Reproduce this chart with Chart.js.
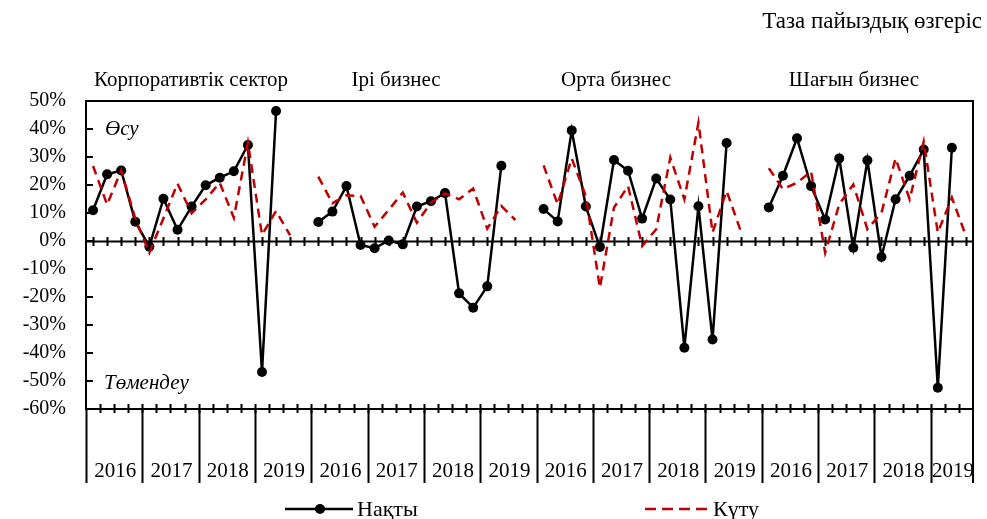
<!DOCTYPE html>
<html>
<head>
<meta charset="utf-8">
<script src="https://cdn.jsdelivr.net/npm/chart.js@4.4.1/dist/chart.umd.min.js"></script>
<style>
  html, body { margin: 0; padding: 0; background: #fff; }
  canvas { display: block; }
</style>
</head>
<body>
<canvas id="chartRate" width="987" height="519"></canvas>
<script>
// segments and years on the category axis (one category = one quarter)
const segments = ['Корпоративтік сектор', 'Ірі бизнес', 'Орта бизнес', 'Шағын бизнес'];
const years = ['2016', '2017', '2018', '2019'];
const quartersInYear = [[4, 4, 4, 4], [4, 4, 4, 4], [4, 4, 4, 4], [4, 4, 4, 3]];

const yTicks = [50, 40, 30, 20, 10, 0, -10, -20, -30, -40, -50, -60];

// Нақты (actual), % by quarter from 2016 Q1
const corpActual   = [11.0, 23.8, 25.2, 6.9, -2.0, 15.1, 4.0, 12.3, 19.9, 22.6, 24.9, 34.3, -46.8, 46.4];
const largeActual  = [6.8, 10.5, 19.6, -1.4, -2.6, 0.2, -1.2, 12.3, 14.2, 17.1, -18.7, -23.8, -16.2, 26.9];
const mediumActual = [11.4, 7.0, 39.5, 12.3, -2.1, 28.9, 25.1, 8.0, 22.3, 14.8, -38.1, 12.4, -35.2, 35.0];
const smallActual  = [12.0, 23.3, 36.7, 19.6, 7.7, 29.5, -2.4, 28.8, -5.7, 14.9, 23.3, 32.7, -52.4, 33.3];

// Күту (expected)
const corpExpected   = [26.8, 13.0, 25.2, 8.0, -4.2, 8.1, 20.5, 9.9, 14.9, 20.8, 8.3, 35.1, 2.2, 10.7, 2.0];
const largeExpected  = [23.0, 13.5, 16.3, 16.1, 5.1, 11.1, 17.3, 6.5, 13.7, 17.0, 14.9, 18.7, 4.4, 12.5, 7.5];
const mediumExpected = [27.0, 13.1, 29.5, 16.0, -16.7, 11.9, 19.6, -1.8, 4.2, 29.8, 14.9, 42.3, 3.0, 17.9, 3.6];
const smallExpected  = [26.0, 18.5, 20.8, 24.8, -4.2, 13.1, 20.2, 4.2, 10.1, 29.5, 14.9, 35.5, 3.0, 15.5, 1.8];

const actualBySeg = [corpActual, largeActual, mediumActual, smallActual];
const expectedBySeg = [corpExpected, largeExpected, mediumExpected, smallExpected];

// build category labels and padded series
const labels = [];
const actual = [];
const expected = [];
segments.forEach((seg, s) => {
  let n = 0;
  years.forEach((y, k) => {
    for (let q = 1; q <= quartersInYear[s][k]; q++) {
      labels.push(seg + ' ' + y + ' Q' + q);
      n++;
    }
  });
  for (let i = 0; i < n; i++) {
    actual.push(i < actualBySeg[s].length ? actualBySeg[s][i] : null);
    expected.push(i < expectedBySeg[s].length ? expectedBySeg[s][i] : null);
  }
});

const SERIF = '"Liberation Serif", "Times New Roman", serif';
const RED = '#C00000';

const decorations = {
  id: 'decorations',
  beforeDraw(chart) {
    const c = chart.ctx;
    c.save();
    c.fillStyle = '#fff';
    c.fillRect(0, 0, chart.width, chart.height);
    c.restore();
  },
  beforeDatasetsDraw(chart) {
    const c = chart.ctx;
    const a = chart.chartArea;
    const x = chart.scales.x;
    const y = chart.scales.y;
    const step = (x.getPixelForValue(1) - x.getPixelForValue(0));
    c.save();
    c.strokeStyle = '#000';
    c.lineWidth = 2;

    // frame top and right
    c.beginPath();
    c.moveTo(a.left, a.top); c.lineTo(a.right, a.top); c.lineTo(a.right, a.bottom);
    c.stroke();

    // inward ticks on value axis
    c.beginPath();
    yTicks.forEach(v => {
      const py = Math.round(y.getPixelForValue(v));
      c.moveTo(a.left, py); c.lineTo(a.left + 7, py);
    });
    c.stroke();

    // zero line with ticks at each quarter
    const y0 = Math.round(y.getPixelForValue(0)) + 0.5;
    c.beginPath();
    c.moveTo(a.left, y0); c.lineTo(a.right, y0);
    labels.forEach((l, i) => {
      const px = Math.round(x.getPixelForValue(i)) + 0.5;
      c.moveTo(px, y0 - 4.5); c.lineTo(px, y0 + 4.5);
    });
    c.stroke();

    // bottom axis, quarter ticks at boundaries, year separators
    const yb = a.bottom;
    c.beginPath();
    c.moveTo(a.left, yb); c.lineTo(a.right, yb);
    for (let i = 1; i < labels.length; i++) {
      const px = Math.round(x.getPixelForValue(i) - step / 2) + 0.5;
      c.moveTo(px, yb - 5); c.lineTo(px, yb + 4);
    }
    c.stroke();

    c.fillStyle = '#000';
    c.font = '21px ' + SERIF;
    c.textAlign = 'center';
    c.textBaseline = 'middle';
    let idx = 0;
    segments.forEach((seg, s) => {
      years.forEach((yr, k) => {
        const n = quartersInYear[s][k];
        const x1 = x.getPixelForValue(idx) - step / 2;
        const x2 = x.getPixelForValue(idx + n - 1) + step / 2;
        c.beginPath();
        c.moveTo(Math.round(x1) + 0.5, yb); c.lineTo(Math.round(x1) + 0.5, yb + 74);
        c.stroke();
        c.fillText(yr, (x1 + x2) / 2 + 1, 471);
        idx += n;
      });
    });
    c.beginPath();
    c.moveTo(a.right, yb); c.lineTo(a.right, yb + 74);
    c.stroke();

    // segment names above the plot
    c.font = '21px ' + SERIF;
    const segCenters = [191, 396, 616, 854];
    segments.forEach((seg, s) => {
      c.fillText(seg, segCenters[s], 80);
    });

    // title
    c.textAlign = 'right';
    c.font = '23px ' + SERIF;
    c.fillText('Таза пайыздық өзгеріс', 982, 22);

    // italic notes
    c.textAlign = 'left';
    c.font = 'italic 21px ' + SERIF;
    c.fillText('Өсу', 105, 129);
    c.fillText('Төмендеу', 104, 383);

    // legend
    const ly = 509;
    c.lineWidth = 2.5;
    c.beginPath();
    c.moveTo(285, ly); c.lineTo(353, ly);
    c.stroke();
    c.beginPath();
    c.arc(320, ly, 5, 0, Math.PI * 2);
    c.fill();
    c.strokeStyle = RED;
    c.setLineDash([11, 6]);
    c.beginPath();
    c.moveTo(645, ly); c.lineTo(709, ly);
    c.stroke();
    c.setLineDash([]);
    c.font = '22px ' + SERIF;
    c.fillText('Нақты', 357, ly + 1);
    c.fillText('Күту', 713, ly + 1);
    c.restore();
  }
};

new Chart(document.getElementById('chartRate'), {
  type: 'line',
  data: {
    labels: labels,
    datasets: [{
      label: 'Нақты',
      data: actual,
      order: 1,
      borderColor: '#000',
      backgroundColor: '#000',
      borderWidth: 2.5,
      pointRadius: 5,
      pointBackgroundColor: '#000',
      pointBorderWidth: 0,
      spanGaps: false,
      tension: 0
    }, {
      label: 'Күту',
      data: expected,
      order: 0,
      borderColor: RED,
      borderWidth: 2.5,
      borderDash: [9, 6],
      pointRadius: 0,
      spanGaps: false,
      tension: 0
    }]
  },
  options: {
    responsive: false,
    animation: false,
    devicePixelRatio: 1,
    layout: { padding: { left: 0, right: 14, top: 101, bottom: 0 } },
    plugins: {
      legend: { display: false },
      tooltip: { enabled: false }
    },
    scales: {
      x: {
        offset: true,
        grid: { display: false },
        border: { display: false },
        ticks: { display: false },
        afterFit(s) { s.height = 110; }
      },
      y: {
        min: -60,
        max: 50,
        grid: { display: false, drawTicks: false },
        border: { display: true, color: '#000', width: 2 },
        ticks: {
          stepSize: 10,
          padding: 20,
          color: '#000',
          font: { family: SERIF, size: 20 },
          callback: v => v + '%'
        },
        afterFit(s) { s.width = 86; }
      }
    }
  },
  plugins: [decorations]
});
</script>
</body>
</html>
